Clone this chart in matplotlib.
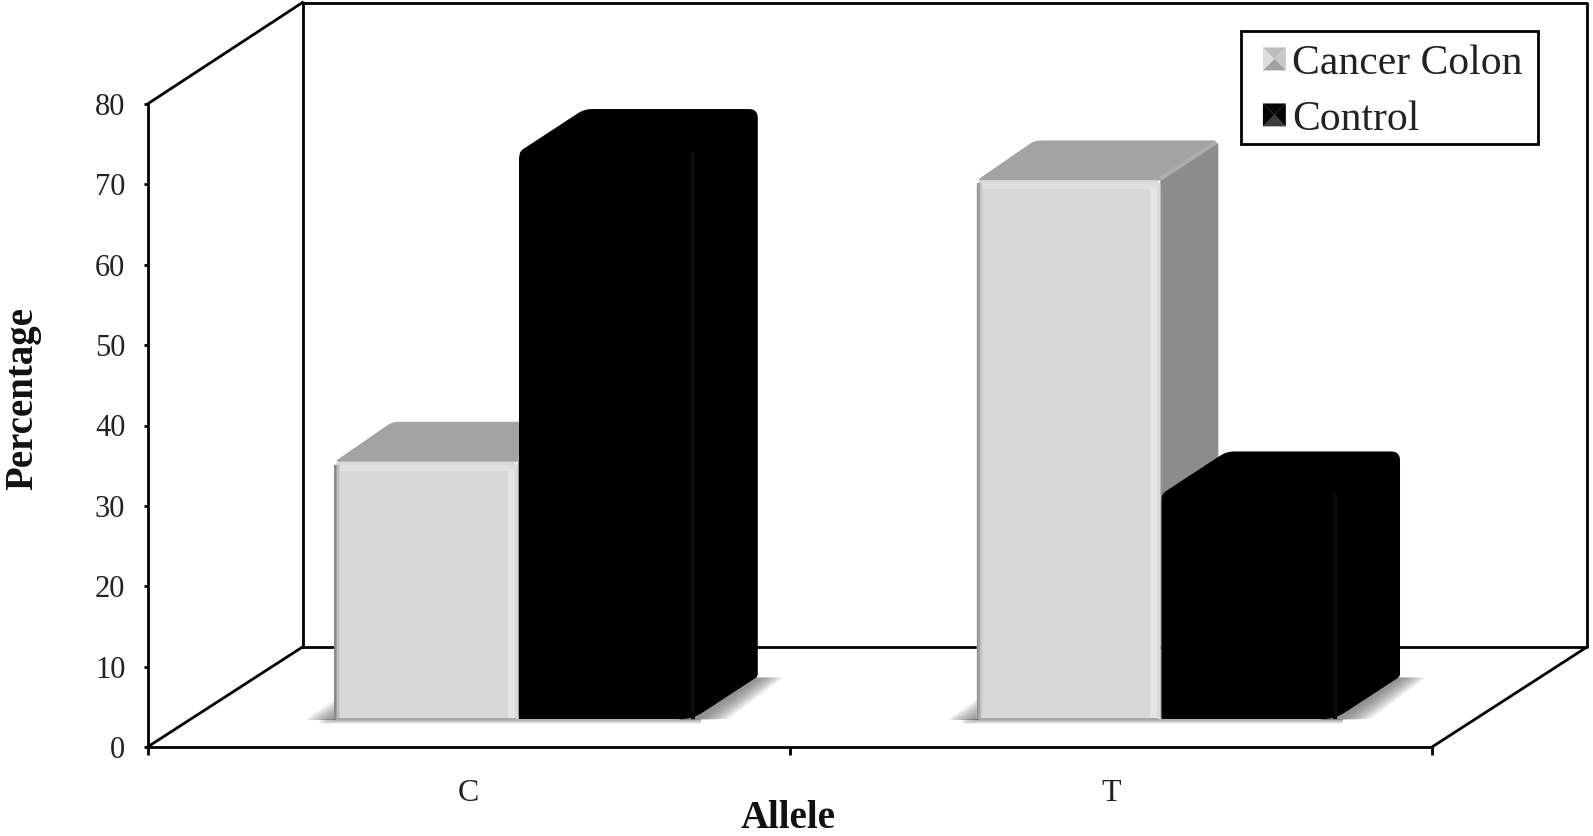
import matplotlib
matplotlib.use("Agg")
import matplotlib.pyplot as plt
import numpy as np
from matplotlib.patches import Polygon, Rectangle, Patch
from matplotlib.legend_handler import HandlerBase

plt.rcParams['font.family'] = ['Liberation Serif', 'DejaVu Serif']

categories = ['C', 'T']
series_names = ['Cancer Colon', 'Control']
cancer_colon = [32.0, 67.0]
control = [70.6, 28.0]
y_ticks = [0, 10, 20, 30, 40, 50, 60, 70, 80]

W, H = 1593, 836
fig = plt.figure(figsize=(W / 100, H / 100), dpi=100, facecolor='white')
L, R, Y0, Y80 = 147.5, 1432.0, 747.0, 104.0
ax = fig.add_axes([L / W, 1 - Y0 / H, (R - L) / W, (Y0 - Y80) / H])
ax.set_xlim(0, 2)
ax.set_ylim(0, 80)
ax.patch.set_visible(False)

PXX = (R - L) / 2
PXY = (Y0 - Y80) / 80
px = lambda v: v / PXX
py = lambda v: v / PXY

# 3-D projection offsets of the chart box and the bars
BOX_DX, BOX_DY = px(155), py(100)
LIGHT_DX, LIGHT_DY = px(58), py(40)
DARK_DX, DARK_DY = px(65), py(42.5)
BASE = py(28)
LINE = dict(color='black', lw=2.0, clip_on=False, solid_capstyle='projecting', zorder=1)
TOP = 80 + BOX_DY + py(1.5)

ax.plot([BOX_DX, BOX_DX], [BOX_DY, TOP], **LINE)
ax.plot([BOX_DX, 2 + BOX_DX, 2 + BOX_DX, BOX_DX], [TOP, TOP, BOX_DY, BOX_DY], **LINE)
ax.plot([0, BOX_DX], [80, TOP], **LINE)
ax.plot([0, BOX_DX], [0, BOX_DY], **LINE)
ax.plot([2, 2 + BOX_DX], [0, BOX_DY], **LINE)


def rounded(points, radii):
    """Polygon vertices with the given corners rounded; radii are in pixels."""
    pts = np.array([(x * PXX, y * PXY) for x, y in points], dtype=float)
    out = []
    n = len(pts)
    for i in range(n):
        p, a, b = pts[i], pts[i - 1], pts[(i + 1) % n]
        r = radii[i]
        if r <= 0:
            out.append(p)
            continue
        p0 = p + (a - p) / np.linalg.norm(a - p) * r
        p1 = p + (b - p) / np.linalg.norm(b - p) * r
        for t in np.linspace(0, 1, 9):
            out.append((1 - t) ** 2 * p0 + 2 * t * (1 - t) * p + t ** 2 * p1)
    return [(x / PXX, y / PXY) for x, y in out]


def shadow(x0, x1, z):
    """Soft floor shadow: wedge on the left, band on the right, strip below."""
    for f in np.linspace(1, .08, 14):
        alpha = .07
        left = [(x0 + px(4), BASE - py(1)), (x0 - px(30 * f), BASE - py(1)), (x0 + px(4), BASE + py(22 * f))]
        right = [(x1 - px(14), BASE - py(1)), (x1 + px(6 + 30 * f), BASE),
                 (x1 + DARK_DX + px(26 * f), BASE + DARK_DY - py(1)), (x1 + DARK_DX - px(4), BASE + DARK_DY - py(1))]
        strip = Rectangle((x0 - px(16 * f), BASE - py(1 + 4 * f)), x1 + px(8) - x0 + px(16 * f), py(1 + 4 * f))
        strip.set(fc='#606060', ec='none', alpha=alpha * .6, zorder=z)
        ax.add_patch(strip)
        for pts in (left, right):
            ax.add_patch(Polygon(pts, closed=True, fc='#606060', ec='none', alpha=alpha, zorder=z))


def light_box(x0, x1, value, z):
    top = BASE + value
    dx, dy = LIGHT_DX, LIGHT_DY
    ax.add_patch(Polygon(rounded([(x1, BASE), (x1 + dx, BASE + dy), (x1 + dx, top + dy), (x1, top)], [0, 3, 6, 0]),
                         closed=True, fc='#8c8c8c', ec='none', zorder=z))
    ax.add_patch(Polygon(rounded([(x0, top), (x0 + dx, top + dy), (x1 + dx, top + dy), (x1, top)], [5, 6, 6, 0]),
                         closed=True, fc='#a3a3a3', ec='none', zorder=z))
    ax.plot([x1 + px(2), x1 + dx - px(4)], [top + py(3), top + dy - py(3)], color='#b2b2b2', lw=3, alpha=.8, zorder=z)
    ax.bar(x0, value - py(3), width=x1 - x0, bottom=BASE, align='edge', color='#d8d8d8', linewidth=0, zorder=z + .1)
    ax.add_patch(Polygon(rounded([(x0, BASE), (x0, top), (x1, top), (x1, BASE)], [2, 6, 6, 2]),
                         closed=True, fc='#d8d8d8', ec='none', zorder=z + .1))
    for off, c in [(0, '#8a8a8a'), (1.5, '#a4a4a4'), (3, '#bdbdbd'), (4.5, '#cdcdcd')]:
        ax.add_patch(Rectangle((x0 + px(off), BASE), px(1.5), value - py(3), fc=c, ec='none', zorder=z + .2))
    ax.add_patch(Rectangle((x1 - px(10), BASE), px(7), value - py(3), fc='#e4e4e4', ec='none', zorder=z + .2))
    ax.add_patch(Rectangle((x0 + px(6), top - py(9)), x1 - x0 - px(8), py(6), fc='#e0e0e0', ec='none', zorder=z + .2))
    ax.add_patch(Rectangle((x0 + px(2), BASE - py(.5)), x1 - x0 - px(4), py(2), fc='#a8a8a8', ec='none', zorder=z + .3))


def dark_box(x0, x1, value, z):
    top = BASE + value
    dx, dy = DARK_DX, DARK_DY
    outline = [(x0, BASE), (x0, top), (x0 + dx, top + dy), (x1 + dx, top + dy), (x1 + dx, BASE + dy), (x1, BASE)]
    ax.add_patch(Polygon(rounded(outline, [0, 5, 8, 9, 3, 12]), closed=True, fc='black', ec='none', zorder=z))
    ax.bar(x0, value - py(5), width=x1 - x0 - px(10), bottom=BASE, align='edge', color='black', linewidth=0,
           zorder=z + .1)
    ax.plot([x1, x1], [BASE + py(2), top - py(2)], color='#0b0b0b', lw=3, zorder=z + .2)


# bar x edges of each category, as fractions of a category width
C0, C1, C2 = 0.291, 0.577, 0.849
for i in range(len(categories)):
    z = 3 + i * 3
    shadow(i + C0, i + C2, z - .5)
    light_box(i + C0, i + C1, cancer_colon[i], z)
    dark_box(i + C1 + .002, i + C2, control[i], z + 1)

for s in ['top', 'right']:
    ax.spines[s].set_visible(False)
for s in ['left', 'bottom']:
    ax.spines[s].set_linewidth(2.0)
    ax.spines[s].set_zorder(2)

ax.set_yticks(y_ticks)
ax.set_xticks([0, 1, 2])
ax.set_xticklabels([])
ax.set_xticks([0.5, 1.5], labels=categories, minor=True)
ax.tick_params(axis='x', which='major', length=6, width=2.0, color='black')
ax.tick_params(axis='x', which='minor', length=0, pad=23, labelsize=23, labelcolor='#222222')
ax.tick_params(axis='y', length=3, width=2.0, pad=13, labelsize=22, labelcolor='#222222')

fig.text(788 / W, 1 - 818 / H, 'Allele', fontsize=28, fontweight='bold', ha='center', va='center', color='#111111')
fig.text(23 / W, 1 - 398 / H, 'Percentage', fontsize=28, fontweight='bold', rotation=90, ha='center', va='center',
         color='#111111')


class PyramidHandler(HandlerBase):
    """Small square with four shaded triangles."""
    def __init__(self, shades):
        super().__init__()
        self.shades = shades

    def create_artists(self, legend, orig, xd, yd, w, h, fontsize, trans):
        x0 = -xd
        x1 = x0 + w
        y0 = -yd + (h - w) / 2
        y1 = y0 + w
        c = ((x0 + x1) / 2, (y0 + y1) / 2)
        tri = [[(x0, y1), (x1, y1), c], [(x1, y1), (x1, y0), c], [(x1, y0), (x0, y0), c], [(x0, y0), (x0, y1), c]]
        return [Polygon(t, closed=True, fc=sh, ec='none', transform=trans) for t, sh in zip(tri, self.shades)]


fig.add_artist(Rectangle((1240.5 / W, 1 - 144.3 / H), 297.7 / W, 112.8 / H, transform=fig.transFigure,
                         fc='white', ec='black', lw=2.0, zorder=19))
handles = [Patch(label=series_names[0]), Patch(label=series_names[1])]
hmap = {handles[0]: PyramidHandler(['#bcbcbc', '#c8c8c8', '#a0a0a0', '#dcdcdc']),
        handles[1]: PyramidHandler(['#050505', '#000000', '#3a3a3a', '#000000'])}
leg = fig.legend(handles=handles, handler_map=hmap, loc='upper right',
                 bbox_to_anchor=(1523 / W, 1 - 44 / H), borderaxespad=0, borderpad=0, fontsize=30,
                 labelcolor='#222222', frameon=False, handlelength=.55, handleheight=.7,
                 handletextpad=.16, labelspacing=.42)
leg.set_zorder(20)

fig.savefig('out.png', dpi=100, facecolor='white')
